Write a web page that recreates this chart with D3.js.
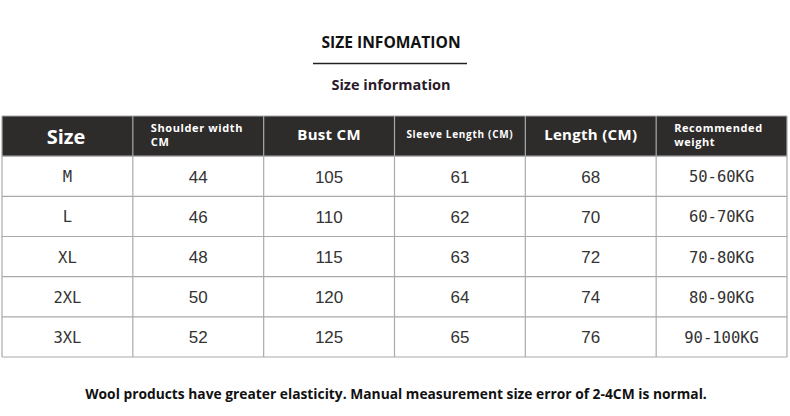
<!DOCTYPE html>
<html><head><meta charset="utf-8">
<script src="https://cdn.jsdelivr.net/npm/d3@7"></script>
<style>body{margin:0;background:#fff}</style></head>
<body><svg id="chart"></svg>
<script>
const headers = ["Size", "Shoulder width\nCM", "Bust CM", "Sleeve Length (CM)", "Length (CM)", "Recommended\nweight"];
const headerSizes = [20, 11, 15, 10, 15, 11];
const headerSpacing = [0, 0.6, 0.3, 0.7, 0.3, 0.6];
const sizes = ["M", "L", "XL", "2XL", "3XL"];
const shoulder = [44, 46, 48, 50, 52];
const bust = [105, 110, 115, 120, 125];
const sleeve = [61, 62, 63, 64, 65];
const length = [68, 70, 72, 74, 76];
const weight = ["50-60KG", "60-70KG", "70-80KG", "80-90KG", "90-100KG"];

const width = 790, height = 416;
const svg = d3.select("#chart").attr("width", width).attr("height", height);
const font = "'Open Sans', 'DejaVu Sans', sans-serif";

svg.append("text").attr("x", 391).attr("y", 48).attr("text-anchor", "middle")
  .attr("font-family", font).attr("font-weight", "bold").attr("font-size", 15.6)
  .attr("fill", "#111").text("SIZE INFOMATION");
svg.append("line").attr("x1", 313).attr("x2", 467).attr("y1", 63.5).attr("y2", 63.5)
  .attr("stroke", "#222").attr("stroke-width", 1.5);
svg.append("text").attr("x", 391).attr("y", 90).attr("text-anchor", "middle")
  .attr("font-family", font).attr("font-weight", "bold").attr("font-size", 14.5)
  .attr("fill", "#2a1a2a").text("Size information");

const x = d3.scaleBand().domain(d3.range(6)).range([2, 787]);
const y = d3.scaleBand().domain(d3.range(6)).range([116, 357]);
const rows = sizes.map((s, i) => [s, shoulder[i], bust[i], sleeve[i], length[i], weight[i]]);

svg.append("rect").attr("x", x(0)).attr("y", y(0)).attr("width", x.range()[1] - x(0))
  .attr("height", y.bandwidth()).attr("fill", "#2e2b2b");

const g = svg.append("g");
// grid
d3.range(7).forEach(c => {
  const xx = c < 6 ? x(c) : x.range()[1];
  g.append("line").attr("x1", xx).attr("x2", xx).attr("y1", y(0)).attr("y2", y.range()[1])
    .attr("stroke", "#aaa").attr("stroke-width", 1.2);
});
d3.range(7).forEach(r => {
  const yy = r < 6 ? y(r) : y.range()[1];
  g.append("line").attr("x1", x(0)).attr("x2", x.range()[1]).attr("y1", yy).attr("y2", yy)
    .attr("stroke", "#aaa").attr("stroke-width", 1.2);
});

headers.forEach((h, c) => {
  const lines = h.split("\n");
  const t = svg.append("text").attr("font-family", font).attr("font-weight", "bold")
    .attr("font-size", headerSizes[c]).attr("fill", "#fff").attr("letter-spacing", headerSpacing[c]);
  if (lines.length > 1) {
    lines.forEach((l, k) => t.append("tspan").attr("x", x(c) + 18).attr("y", y(0) + 16 + k * 14).text(l));
  } else {
    t.attr("x", x(c) + x.bandwidth() / 2).attr("y", y(0) + y.bandwidth() / 2 - 2)
      .attr("text-anchor", "middle").attr("dominant-baseline", "central").text(h);
    if (c === 0) t.attr("x", x(0) + 64).attr("y", y(0) + y.bandwidth() / 2);
  }
});

rows.forEach((row, r) => {
  row.forEach((v, c) => {
    svg.append("text").attr("x", x(c) + x.bandwidth() / 2)
      .attr("y", y(r + 1) + y.bandwidth() / 2 + 1)
      .attr("text-anchor", "middle").attr("dominant-baseline", "central")
      .attr("font-family", c === 0 || c === 5 ? "'DejaVu Sans Mono', monospace" : "'Liberation Sans', Arial, sans-serif")
      .attr("font-size", c === 0 || c === 5 ? 15.5 : 17).attr("fill", "#333").text(v);
  });
});

svg.append("text").attr("x", 396).attr("y", 399).attr("text-anchor", "middle")
  .attr("font-family", font).attr("font-weight", "bold").attr("font-size", 13.8)
  .attr("fill", "#111").text("Wool products have greater elasticity. Manual measurement size error of 2-4CM is normal.");
</script></body></html>
